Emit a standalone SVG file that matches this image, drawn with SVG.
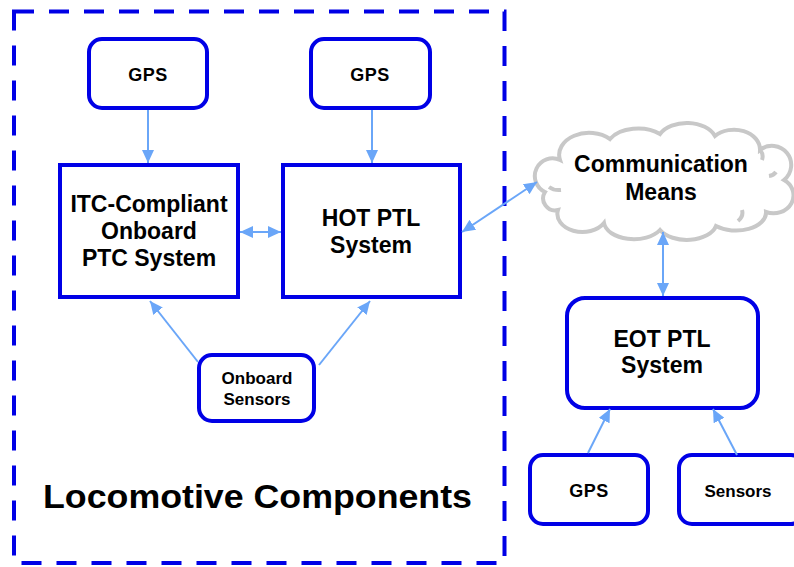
<svg xmlns="http://www.w3.org/2000/svg" width="794" height="567" viewBox="0 0 794 567">
<style>
.box{fill:#fff;stroke:#0000e6;stroke-width:4}
.t{font-family:"Liberation Sans",Arial,sans-serif;font-weight:bold;fill:#000;text-anchor:middle}
.big{font-size:23px}
.sm{font-size:17px}
.gps{font-size:18px;letter-spacing:0.5px}
.conn line{stroke:#6aa6f8;stroke-width:2}
</style>
<defs>
<marker id="ah" viewBox="0 0 13 12" refX="13" refY="6" markerWidth="13" markerHeight="12" markerUnits="userSpaceOnUse" orient="auto-start-reverse">
<path d="M0,0 L13,6 L0,12 z" fill="#6aa6f8"/>
</marker>
</defs>
<rect width="794" height="567" fill="#fff"/>
<g id="locomotive-group">
<rect x="14" y="11.5" width="490.5" height="551.5" fill="none" stroke="#0000e6" stroke-width="4" stroke-dasharray="20 15"/>
<text class="t" x="43" y="508" font-size="34" textLength="429" lengthAdjust="spacingAndGlyphs" style="text-anchor:start">Locomotive Components</text>
</g>
<g id="gps1"><rect class="box" x="89" y="39" width="118" height="69" rx="13"/><text class="t gps" x="148" y="81">GPS</text></g>
<g id="gps2"><rect class="box" x="311" y="39" width="119" height="69" rx="13"/><text class="t gps" x="370" y="81">GPS</text></g>
<g id="itc"><rect class="box" x="60" y="165" width="178" height="132"/>
<text class="t big" x="149" y="212">ITC-Compliant</text><text class="t big" x="149" y="239">Onboard</text><text class="t big" x="149" y="266">PTC System</text></g>
<g id="hot"><rect class="box" x="283" y="165" width="177" height="132"/>
<text class="t big" x="371" y="226">HOT PTL</text><text class="t big" x="371" y="253">System</text></g>
<g id="onboard-sensors"><rect class="box" x="199" y="355" width="115" height="66" rx="13"/>
<text class="t sm" x="257" y="384">Onboard</text><text class="t sm" x="257" y="405">Sensors</text></g>
<g id="comm">
<path d="M545,192 A16,16 0 0 1 560,160 A30,22 0 0 1 610,139 A32,20 0 0 1 660,134 A30,20 0 0 1 715,136 A26,20 0 0 1 760,150 A18,18 0 0 1 784,180 A20,18 0 0 1 766,212 A30,18 0 0 1 716,226 A30,18 0 0 1 660,230 A30,18 0 0 1 604,223 A25,18 0 0 1 558,210 A12,12 0 0 1 545,192 Z" fill="#fff" stroke="#c8c8c8" stroke-width="4"/>
<path d="M561,190 A14,10 0 0 1 549,187 M760,150 A10,10 0 0 1 762,160 M776,172 A10,8 0 0 1 769,176 M738,221 A22,14 0 0 0 742,210" fill="none" stroke="#c8c8c8" stroke-width="4"/>
<text class="t big" x="661" y="172">Communication</text><text class="t big" x="661" y="200">Means</text></g>
<g id="eot"><rect class="box" x="567" y="298" width="191" height="110" rx="18"/>
<text class="t big" x="662" y="347">EOT PTL</text><text class="t big" x="662" y="373">System</text></g>
<g id="gps3"><rect class="box" x="530" y="455" width="118" height="69" rx="13"/><text class="t gps" x="589" y="497">GPS</text></g>
<g id="sensors"><rect class="box" x="679" y="455" width="125" height="69" rx="13"/><text class="t sm" x="738" y="497">Sensors</text></g>
<g id="connectors" class="conn">
<line x1="148" y1="110" x2="148" y2="163" marker-end="url(#ah)"/>
<line x1="372" y1="110" x2="372" y2="163" marker-end="url(#ah)"/>
<line x1="240" y1="232" x2="281" y2="232" marker-start="url(#ah)" marker-end="url(#ah)"/>
<line x1="198" y1="362" x2="150" y2="301" marker-end="url(#ah)"/>
<line x1="319" y1="365" x2="370" y2="301" marker-end="url(#ah)"/>
<line x1="462" y1="232" x2="537" y2="182" marker-start="url(#ah)" marker-end="url(#ah)"/>
<line x1="663" y1="232" x2="663" y2="296" marker-start="url(#ah)" marker-end="url(#ah)"/>
<line x1="588" y1="453" x2="610" y2="409" marker-end="url(#ah)"/>
<line x1="737" y1="455" x2="713" y2="409" marker-end="url(#ah)"/>
</g>
</svg>
